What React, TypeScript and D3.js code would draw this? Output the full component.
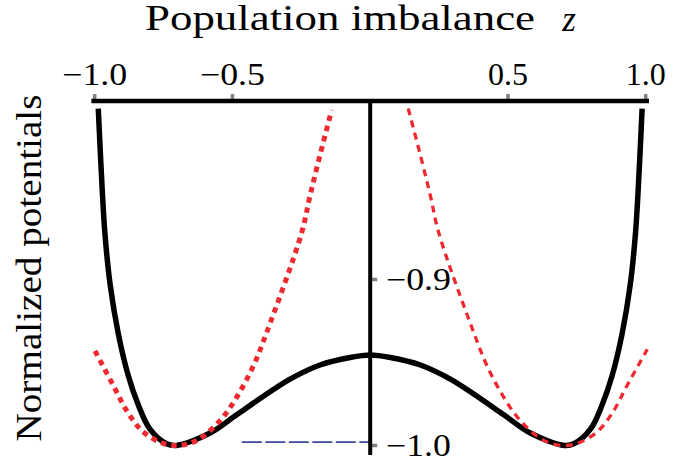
import React from "react";
import * as d3 from "d3";

// Black curve: normalized double-well potential
const zBlack = [-0.987, -0.977, -0.963, -0.944, -0.914, -0.878, -0.843, -0.8, -0.739, -0.705, -0.581, -0.485, -0.389, -0.291, -0.182, -0.073, 0, 0.073, 0.182, 0.291, 0.389, 0.485, 0.581, 0.705, 0.739, 0.8, 0.843, 0.878, 0.914, 0.944, 0.963, 0.977, 0.987];
const vBlack = [-0.797, -0.832, -0.872, -0.903, -0.933, -0.958, -0.975, -0.99, -0.999, -1.0, -0.9925, -0.9815, -0.9705, -0.96, -0.9515, -0.947, -0.9455, -0.947, -0.9515, -0.96, -0.9705, -0.9815, -0.9925, -1.0, -0.999, -0.99, -0.975, -0.958, -0.933, -0.903, -0.872, -0.832, -0.797];

// Left red (dotted) harmonic approximation
const zRedL = [-0.999, -0.932, -0.884, -0.829, -0.763, -0.702, -0.63, -0.545, -0.485, -0.424, -0.376, -0.249, -0.219, -0.182, -0.14];
const vRedL = [-0.943, -0.964, -0.979, -0.991, -0.998, -1.0, -0.997, -0.985, -0.971, -0.952, -0.932, -0.872, -0.85, -0.825, -0.798];

// Right red (dashed) harmonic approximation
const zRedR = [0.138, 0.182, 0.219, 0.249, 0.376, 0.424, 0.485, 0.545, 0.63, 0.702, 0.763, 0.829, 0.884, 0.932, 1.006];
const vRedR = [-0.797, -0.825, -0.85, -0.872, -0.932, -0.952, -0.971, -0.985, -0.997, -1.0, -0.998, -0.991, -0.979, -0.964, -0.942];

// Blue dashed level
const zBlue = [-0.466, 0];
const vBlue = [-0.998, -0.998];

const xTicks = [-1.0, -0.5, 0.5, 1.0];
const xTickLabels = ["\u22121.0", "\u22120.5", "0.5", "1.0"];
const yTicks = [-0.9, -1.0];
const yTickLabels = ["\u22120.9", "\u22121.0"];

const xTitle = "Population imbalance";
const yTitle = "Normalized potentials";

export default function App() {
  const W = 693, H = 461;
  const x = d3.scaleLinear().domain([-1, 1]).range([94.7, 645.7]);
  const y = d3.scaleLinear().domain([-1, -0.9]).range([445.5, 279.5]);
  const yTop = -0.7925;
  const yBot = -1.0057;
  const x0 = x(0);
  const axisY = y(yTop);

  const line = d3
    .line<[number, number]>()
    .x((d) => x(d[0]))
    .y((d) => y(d[1]))
    .curve(d3.curveCatmullRom.alpha(0.5));

  const zip = (a: number[], b: number[]) => a.map((v, i) => [v, b[i]] as [number, number]);

  const fstyle = { fontFamily: "'Liberation Serif', 'DejaVu Serif', serif" };
  const wide = (s: string) => (s.startsWith("\u2212") ? 65 : 40);

  return (
    <svg width={W} height={H} style={{ position: "absolute", left: 0, top: 0, background: "#fff" }}>
      <defs>
        <clipPath id="plotclip">
          <rect x={x(-1.02)} y={axisY} width={x(1.02) - x(-1.02)} height={y(yBot) - axisY + 10} />
        </clipPath>
      </defs>
      {/* title */}
      <text x={340} y={30} style={fstyle} fontSize={35} textAnchor="middle" textLength={390} lengthAdjust="spacingAndGlyphs">
        {xTitle}
      </text>
      <text x={569} y={31} style={fstyle} fontSize={35} fontStyle="italic" textAnchor="middle">
        z
      </text>
      {/* y title */}
      <text
        transform={`translate(41,${268}) rotate(-90)`}
        style={fstyle}
        fontSize={36}
        textAnchor="middle"
        textLength={347}
        lengthAdjust="spacingAndGlyphs"
      >
        {yTitle}
      </text>

      <g clipPath="url(#plotclip)">
        <path d={line(zip(zBlack, vBlack)) || ""} fill="none" stroke="#000" strokeWidth={5.5} />
        <path d={line(zip(zBlue, vBlue)) || ""} fill="none" stroke="#3a4aa0" strokeWidth={1.8} strokeDasharray="20 3.5" />
        <path d={line(zip(zRedL, vRedL)) || ""} fill="none" stroke="#ee2a30" strokeWidth={5} strokeDasharray="5.5 5" />
        <path d={line(zip(zRedR, vRedR)) || ""} fill="none" stroke="#ee2a30" strokeWidth={3.3} strokeDasharray="7 5.5" />
      </g>

      {/* x axis (top) */}
      {xTicks.map((t) => (
        <line key={"xt" + t} x1={x(t)} x2={x(t)} y1={axisY - 7} y2={axisY} stroke="#808080" strokeWidth={3.5} />
      ))}
      <line x1={x(-1.012)} x2={x(1.012)} y1={axisY} y2={axisY} stroke="#000" strokeWidth={4.5} />
      {xTicks.map((t, i) => (
        <text
          key={"xl" + t}
          x={x(t)}
          y={85}
          style={fstyle}
          fontSize={31}
          textAnchor="middle"
          textLength={wide(xTickLabels[i])}
          lengthAdjust="spacingAndGlyphs"
        >
          {xTickLabels[i]}
        </text>
      ))}

      {/* y axis */}
      {yTicks.map((t) => (
        <line key={"yt" + t} x1={x0} x2={x0 + 7} y1={y(t)} y2={y(t)} stroke="#808080" strokeWidth={3.5} />
      ))}
      <line x1={x0} x2={x0} y1={axisY} y2={y(yBot)} stroke="#000" strokeWidth={4} />
      {yTicks.map((t, i) => (
        <text
          key={"yl" + t}
          x={386}
          y={y(t) + 10}
          style={fstyle}
          fontSize={31}
          textAnchor="start"
          textLength={65}
          lengthAdjust="spacingAndGlyphs"
        >
          {yTickLabels[i]}
        </text>
      ))}
    </svg>
  );
}
